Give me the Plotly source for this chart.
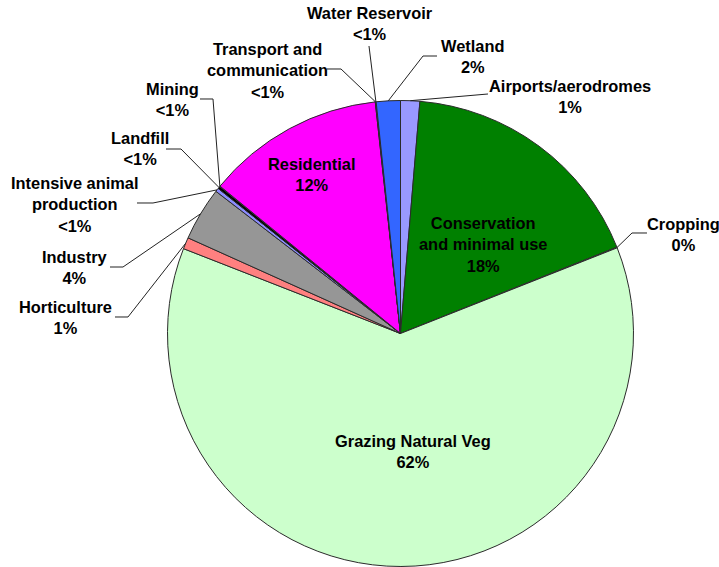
import math
import plotly.graph_objects as go

# Land use categories (clockwise from 12 o'clock) and their share of area, %
categories = [
    "Airports/aerodromes", "Conservation and minimal use", "Cropping",
    "Grazing Natural Veg", "Horticulture", "Industry",
    "Intensive animal production", "Landfill", "Mining", "Residential",
    "Transport and communication", "Water Reservoir", "Wetland",
]
shares = [1.33, 17.65, 0.05, 62.0, 0.8, 3.72, 0.25, 0.17, 0.03, 12.39, 0.03, 0.03, 1.67]
pct_labels = ["1%", "18%", "0%", "62%", "1%", "4%", "<1%", "<1%", "<1%", "12%", "<1%", "<1%", "2%"]

# Display text for each category (line breaks as drawn)
display_names = [
    "Airports/aerodromes", "Conservation<br>and minimal use", "Cropping",
    "Grazing Natural Veg", "Horticulture", "Industry",
    "Intensive animal<br>production", "Landfill", "Mining", "Residential",
    "Transport and<br>communication", "Water Reservoir", "Wetland",
]

slice_colors = [
    "#9999FF", "#008000", "#CCFFCC", "#CCFFCC", "#FF8080", "#969696",
    "#8C8CFF", "#000000", "#333399", "#FF00FF", "#0000FF", "#00CCFF", "#3366FF",
]

W, H = 719, 567
FONT = "Liberation Sans"

# Pie placement in pixels
CX, CY, R = 400.5, 333.5, 233.0
dom_x = [(CX - R) / W, (CX + R) / W]
dom_y = [1 - (CY + R) / H, 1 - (CY - R) / H]


def px(x, y):
    return x / W, 1 - y / H


# Label layout: text block centre and leader-line bend points (pixels).
# None for labels placed inside their slice.
label_layout = {
    "Airports/aerodromes": ((570, 96), [(488, 94)]),
    "Conservation and minimal use": ((483, 245), None),
    "Cropping": ((683, 234), [(647, 233), (632, 233)]),
    "Grazing Natural Veg": ((413, 451), None),
    "Horticulture": ((65, 317), [(115, 317), (128, 317)]),
    "Industry": ((75, 267), [(110, 267), (123, 267)]),
    "Intensive animal production": ((75, 204), [(137, 203), (153, 203)]),
    "Landfill": ((140, 148), [(166, 149), (181, 149)]),
    "Mining": ((172, 99), [(200, 99), (213, 99)]),
    "Residential": ((311, 174), None),
    "Transport and communication": ((267, 70), [(327, 69), (341, 69)]),
    "Water Reservoir": ((370, 23), [(369, 46)]),
    "Wetland": ((472, 56), [(437, 56), (423, 56)]),
}

fig = go.Figure()
fig.add_trace(go.Pie(
    labels=categories,
    values=shares,
    sort=False,
    direction="clockwise",
    rotation=0,
    textinfo="none",
    hoverinfo="label+percent",
    marker=dict(colors=slice_colors, line=dict(color="#2b2b2b", width=1)),
    domain=dict(x=dom_x, y=dom_y),
    showlegend=False,
))

total = sum(shares)
shapes = []
annotations = []
cum = 0.0
for name, text, val, pct in zip(categories, display_names, shares, pct_labels):
    mid_deg = (cum + val / 2) / total * 360.0
    cum += val
    (tx, ty), bends = label_layout[name]
    annotations.append(dict(
        x=px(tx, ty)[0], y=px(tx, ty)[1], xref="paper", yref="paper",
        text=f"{text}<br>{pct}", showarrow=False, align="center",
        xanchor="center", yanchor="middle",
        font=dict(family=FONT, size=16.4, color="#000000", weight="bold"),
    ))
    if bends is None:
        continue
    a = math.radians(mid_deg)
    ex, ey = CX + R * math.sin(a), CY - R * math.cos(a)
    pts = bends + [(ex, ey)]
    path = "M " + " L ".join(f"{px(x, y)[0]:.5f},{px(x, y)[1]:.5f}" for x, y in pts)
    shapes.append(dict(type="path", path=path, xref="paper", yref="paper",
                       line=dict(color="#222222", width=1), layer="above"))

fig.update_layout(
    width=W, height=H,
    margin=dict(l=0, r=0, t=0, b=0),
    paper_bgcolor="white", plot_bgcolor="white",
    shapes=shapes, annotations=annotations,
)

fig.write_html("out.html")
